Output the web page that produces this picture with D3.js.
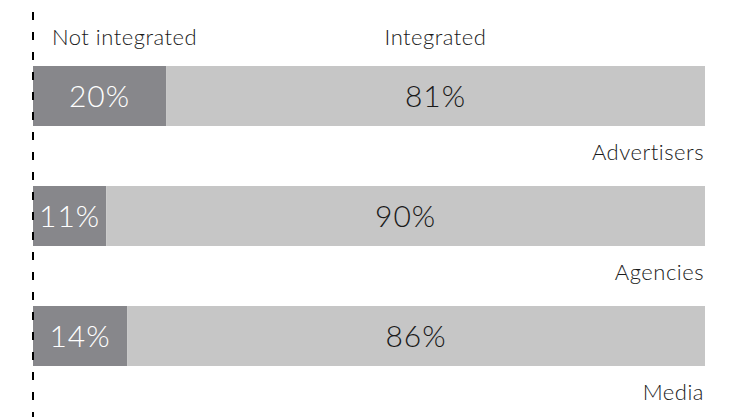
<!DOCTYPE html>
<html>
<head>
<meta charset="utf-8">
<script src="https://cdn.jsdelivr.net/npm/d3@7"></script>
<style>
  body { margin: 0; background: #fff; }
  text { font-family: Lato, "Open Sans", sans-serif; font-weight: 300; }
</style>
</head>
<body>
<script>
const categories = ["Advertisers", "Agencies", "Media"];
const notIntegrated = [20, 11, 14];
const integrated = [81, 90, 86];
const seriesNames = ["Not integrated", "Integrated"];

const W = 735, H = 417;

const svg = d3.select("body").append("svg")
  .attr("width", W)
  .attr("height", H);

const rows = categories.map((c, i) => ({cat: c, ni: notIntegrated[i], in: integrated[i]}));

// each bar normalised to full width
const stack = d3.stack().keys(["ni", "in"]).offset(d3.stackOffsetExpand);
const layers = stack(rows);

const x = d3.scaleLinear().domain([0, 1]).range([33, 705]);
const y = d3.scaleBand().domain(categories).range([66, 366]).paddingInner(0.5);

const colors = {ni: "#87878b", in: "#c6c6c6"};
const labelColors = {ni: "#ffffff", in: "#1a1a1a"};

const layerG = svg.selectAll("g.layer")
  .data(layers)
  .join("g")
  .attr("class", "layer");

layerG.selectAll("rect")
  .data(d => d.map(v => ({key: d.key, v})))
  .join("rect")
  .attr("x", d => x(d.v[0]))
  .attr("y", d => y(d.v.data.cat))
  .attr("width", d => x(d.v[1]) - x(d.v[0]))
  .attr("height", y.bandwidth())
  .attr("fill", d => colors[d.key]);

layerG.selectAll("text")
  .data(d => d.map(v => ({key: d.key, v})))
  .join("text")
  .attr("x", d => (x(d.v[0]) + x(d.v[1])) / 2)
  .attr("y", d => y(d.v.data.cat) + y.bandwidth() / 2 + 11)
  .attr("text-anchor", "middle")
  .attr("font-size", 30)
  .attr("letter-spacing", 1)
  .attr("fill", d => labelColors[d.key])
  .text(d => d.v.data[d.key] + "%");

// category labels under each bar, right aligned
svg.selectAll("text.cat")
  .data(categories)
  .join("text")
  .attr("class", "cat")
  .attr("x", 704)
  .attr("y", d => y(d) + y.bandwidth() + 34)
  .attr("text-anchor", "end")
  .attr("font-size", 22)
  .attr("letter-spacing", 0.5)
  .attr("fill", "#1a1a1a")
  .text(d => d);

// series headers above first bar
const first = layers.map(l => l[0]);
svg.selectAll("text.series")
  .data(seriesNames)
  .join("text")
  .attr("class", "series")
  .attr("x", (d, i) => i === 0 ? 52 : (x(first[1][0]) + x(first[1][1])) / 2)
  .attr("y", 45)
  .attr("text-anchor", (d, i) => i === 0 ? "start" : "middle")
  .attr("font-size", 22)
  .attr("letter-spacing", 0.5)
  .attr("fill", "#1a1a1a")
  .text(d => d);

// dashed baseline
svg.append("line")
  .attr("x1", x(0)).attr("x2", x(0))
  .attr("y1", 12).attr("y2", H)
  .attr("stroke", "#000")
  .attr("stroke-width", 2)
  .attr("stroke-dasharray", "8,12");
</script>
</body>
</html>
